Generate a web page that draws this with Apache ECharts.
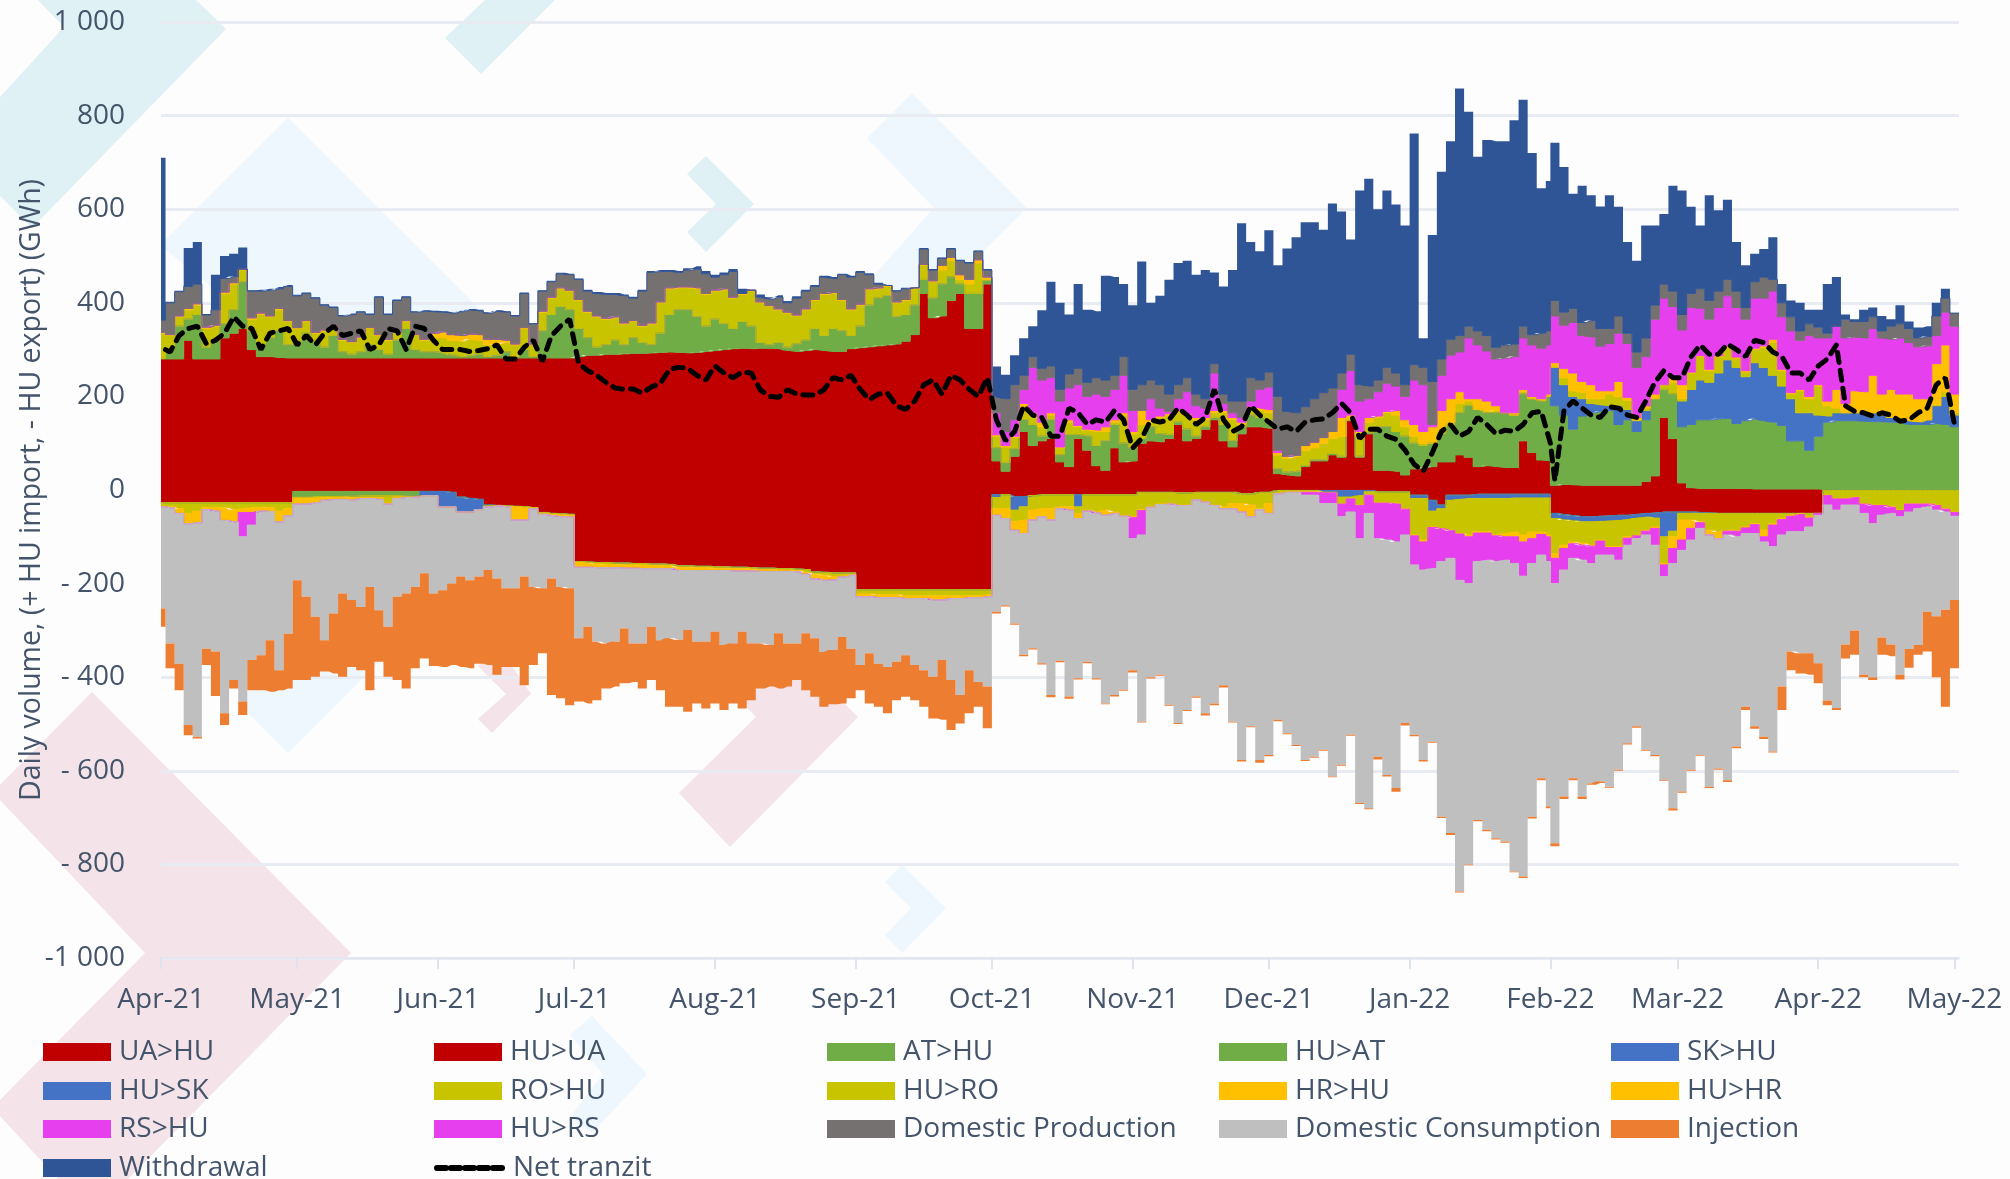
<!DOCTYPE html>
<html><head><meta charset="utf-8">
<style>html,body{margin:0;padding:0;background:#fdfdfe}#c{width:2010px;height:1179px}</style>
<script src="https://cdn.jsdelivr.net/npm/echarts@6/dist/echarts.min.js"></script>
</head><body><div id="c"></div>
<script>
// Month ticks: label + day offset from 1 Apr 2021
const monthLabels=['Apr-21','May-21','Jun-21','Jul-21','Aug-21','Sep-21','Oct-21','Nov-21','Dec-21','Jan-22','Feb-22','Mar-22','Apr-22','May-22'];
const monthDays=[0,30,61,91,122,153,183,214,244,275,306,334,365,395];

// All series were read off the picture as stacked band edges (GWh), per roughly two-day bin.
// "1" = Apr-Sep 2021 bins (92), "2" = Oct 2021-Apr 2022 bins (107).
const edgeUAHU1=[280,280,280,320,280,280,280,325,335,345,
300,285,285,283,282,282,282,282,282,282,
282,282,282,282,282,282,282,282,282,282,
282,282,282,282,282,282,282,282,282,282,
282,282,282,282,282,282,285,288,288,290,
290,291,292,292,293,294,295,294,293,294,
296,298,300,302,303,302,303,303,302,298,
296,298,300,298,296,296,302,304,306,308,
310,312,318,332,420,368,372,405,420,345,
345,440];
const edgeUAHU2=[62,40,72,125,95,105,110,60,50,110,
85,52,42,90,60,62,100,105,103,110,
140,105,110,130,150,105,92,120,135,135,
132,35,32,30,50,62,62,75,70,148,
70,120,42,42,40,32,45,48,50,60,
60,75,70,50,52,50,48,48,105,80,
64,62,10,12,11,10,10,10,10,10,
10,10,18,30,155,110,15,5,3,3,
3,3,3,3,2,2,2,2,2,2,
2,2,0,0,0,0,0,0,0,0,
0,0,0,0,0,0,0];
const edgeATHU1=[281,300,350,365,375,305,320,355,385,445,
340,310,325,340,310,318,335,318,305,330,
295,290,295,310,300,290,320,345,300,295,
295,292,288,285,287,290,285,288,295,285,
300,285,340,375,392,385,345,325,305,310,
320,310,325,315,310,335,375,385,385,370,
350,365,355,345,360,350,315,310,315,305,
312,320,345,330,345,340,330,350,395,410,
415,370,375,395,450,410,440,455,440,420,
420,448];
const edgeATHU2=[90,58,88,150,140,115,150,75,118,118,
115,95,105,140,100,90,110,135,120,118,
145,130,115,135,155,140,105,135,160,155,
150,45,38,40,52,64,65,78,72,150,
72,122,135,135,125,115,100,95,100,120,
140,165,180,172,165,165,165,160,205,195,
190,200,180,160,130,158,165,168,170,140,
150,125,150,195,215,205,135,140,150,150,
152,153,142,148,152,148,145,138,105,105,
85,115,145,148,148,148,147,146,146,145,
144,140,140,140,142,140,135];
const edgeSKHUFeb=[262,225,200,195,185,182,180,180,172,148,170,195,215,205,190,215,235,230,250,278,262,242,272,262,245,222,195,165,165,160,158,165,165,165,165,165,160,155,150,148,146,150,180,200,160];
const edgeROHU1=[335,330,370,385,395,345,350,420,440,470,
365,375,370,385,360,345,360,335,340,350,
320,315,325,345,330,320,335,360,330,320,
325,325,320,318,322,320,310,312,315,310,
345,310,380,410,430,425,405,380,370,365,
368,355,360,350,355,400,430,432,432,430,
418,425,428,410,418,425,400,392,385,378,
372,385,405,418,420,405,385,395,428,430,
435,400,405,430,480,445,470,490,450,440,
485,450];
const edgeROHU2=[115,92,112,175,160,135,160,90,145,135,
128,125,125,145,160,120,140,145,155,160,
165,160,150,150,165,165,150,140,170,170,
165,75,68,72,85,90,100,110,115,150,
115,145,155,165,160,135,115,100,100,125,
145,185,190,165,168,170,165,160,210,195,
192,200,265,240,212,208,195,195,205,200,
192,150,175,195,225,230,195,250,285,255,
285,305,282,252,300,305,315,255,205,212,
195,222,180,175,165,165,165,165,160,155,
150,148,146,150,182,210,165];
const edgeHRHU1=[337,332,372,388,398,348,352,423,443,472,
368,378,372,388,362,347,362,337,342,352,
322,317,327,347,332,322,337,362,332,322,
335,338,332,330,333,332,322,322,320,312,
347,312,382,412,432,427,407,382,372,367,
370,357,362,352,357,402,432,434,434,432,
420,427,430,412,420,427,402,394,387,380,
374,387,407,420,422,407,387,397,430,432,
437,402,407,432,482,447,480,497,460,450,
492,455];
const edgeHRHU2=[118,95,115,185,165,145,165,92,150,138,
130,128,135,150,165,125,170,150,158,163,
170,163,155,155,170,170,155,145,178,175,
172,80,72,74,95,102,112,125,155,160,
125,155,158,168,170,150,140,125,135,170,
195,210,195,195,190,180,165,165,215,200,
195,205,272,260,250,232,225,212,212,232,
198,155,180,205,225,245,225,252,287,258,
287,307,284,255,303,308,322,258,208,215,
200,225,190,215,185,212,210,245,205,215,
205,205,195,195,270,310,205];
const edgeRSHU2=[165,125,150,215,262,235,240,190,218,225,
200,205,200,215,245,170,170,195,175,168,
195,210,180,175,250,185,165,155,190,215,
220,85,72,74,95,102,112,125,215,255,
190,195,210,228,222,200,235,225,140,245,
288,295,325,310,297,280,282,285,325,310,
303,310,372,352,358,330,327,307,313,335,
313,262,285,365,410,392,342,390,388,365,
390,415,390,365,410,410,425,370,340,320,
330,325,325,350,325,327,325,345,325,322,
325,315,306,308,330,380,350];
const edgeProd1=[363,400,424,435,440,374,385,452,456,430,
425,425,427,430,435,415,420,410,395,390,
372,375,380,375,412,375,405,412,380,382,
381,380,378,381,385,383,378,382,380,372,
420,355,425,445,462,460,450,425,420,418,
418,415,410,425,465,467,467,465,470,472,
462,455,460,467,420,415,412,408,412,400,
410,425,435,455,452,460,455,465,460,440,
435,425,430,425,515,470,495,515,490,485,
510,470];
const edgeProd2=[199,195,225,245,285,260,265,215,248,260,
230,240,235,245,285,215,225,235,225,205,
225,240,205,195,270,205,190,190,240,235,
252,200,168,165,178,195,208,218,250,290,
225,222,235,262,250,225,268,262,232,280,
322,330,350,340,330,305,310,312,350,332,
335,340,405,380,388,358,362,345,345,372,
335,295,325,395,440,425,375,420,430,405,
425,450,425,390,445,455,450,400,370,340,
355,348,335,345,365,360,360,370,340,350,
355,345,325,328,372,410,378];
const edgeWithdrawal1=[710,402,426,517,530,376,460,500,505,518,
427,428,430,434,438,417,422,412,397,392,
374,377,382,377,414,377,407,414,382,384,
383,382,380,383,387,385,380,384,382,374,
422,357,427,447,464,462,452,428,423,421,
421,418,413,428,468,470,470,468,474,478,
468,460,465,472,430,420,418,412,416,404,
414,428,438,458,455,462,458,468,463,443,
437,427,432,427,517,472,497,517,492,487,
512,472];
const edgeWithdrawal2=[264,246,288,324,350,384,445,400,375,440,
385,382,458,455,440,395,488,400,415,449,
485,490,460,470,465,435,470,570,530,510,
555,480,516,540,572,572,556,612,595,535,
640,665,600,640,610,565,762,324,545,680,
745,858,808,712,748,745,745,790,834,720,
645,660,742,690,633,650,630,606,630,605,
530,490,565,565,590,650,640,605,565,630,
598,620,530,480,505,515,540,440,405,400,
385,385,440,455,375,365,385,390,372,365,
395,360,347,350,400,430,378];

const edgeHUUA1=[-27,-27,-27,-27,-27,-27,-27,-27,-27,-27,
-27,-27,-27,-27,-27,-3,-3,-3,-3,-3,
-3,-3,-3,-3,-3,-3,-3,-3,-3,-3,
-3,-3,-5,-15,-18,-20,-32,-33,-34,-35,
-36,-38,-48,-50,-51,-52,-153,-154,-155,-155,
-156,-156,-157,-157,-158,-158,-159,-162,-162,-163,
-163,-164,-164,-165,-165,-166,-167,-167,-168,-168,
-169,-170,-175,-176,-177,-177,-177,-213,-213,-213,
-213,-213,-213,-213,-213,-213,-213,-213,-213,-213,
-213,-213];
const edgeHUUA2=[-10,-10,-14,-14,-12,-10,-10,-10,-10,-10,
-10,-10,-10,-10,-10,-10,-5,-5,-5,-5,
-6,-6,-5,-5,-5,-5,-5,-8,-8,-5,
-5,-1,-1,-1,-1,-1,-1,-1,-1,-1,
-1,-1,-4,-4,-4,-4,-11,-11,-22,-32,
-11,-11,-11,-9,-9,-9,-9,-9,-9,-9,
-9,-9,-50,-53,-55,-57,-57,-56,-55,-54,
-54,-52,-50,-49,-47,-47,-47,-47,-48,-49,
-50,-50,-50,-50,-50,-50,-50,-50,-50,-50,
-50,-50,-1,-1,-1,-1,-1,-1,-1,-1,
-1,-1,-1,-1,-1,-1,-1];
const edgeHUATSpring=[-15,-15,-14,-14,-14,-13,-13,-12,-12,-12,-12,-12,-13,-14];
const edgeHUSKSpring=[-12,-12,-36,-36,-47,-47,-42,-34];
const edgeHUSK2=[-16,-10,-43,-36,-12,-10,-10,-10,-10,-36,
-10,-10,-10,-10,-10,-10,-5,-5,-5,-5,
-6,-6,-5,-5,-5,-5,-5,-8,-8,-5,
-5,-1,-1,-1,-1,-1,-5,-5,-15,-15,
-12,-4,-4,-4,-4,-4,-18,-18,-45,-40,
-22,-20,-18,-18,-18,-18,-18,-17,-17,-17,
-17,-17,-61,-64,-66,-68,-68,-67,-66,-65,
-63,-60,-58,-60,-100,-88,-50,-50,-50,-50,
-50,-50,-50,-50,-50,-50,-50,-50,-50,-50,
-50,-50,-1,-1,-1,-1,-1,-1,-1,-1,
-1,-1,-1,-1,-1,-1,-1];
const edgeHURO1=[-35,-36,-40,-50,-45,-38,-37,-38,-42,-40,
-38,-37,-38,-45,-40,-17,-17,-17,-16,-16,
-15,-16,-16,-16,-16,-28,-15,-15,-15,-12,
-12,-36,-36,-47,-47,-42,-35,-33,-35,-36,
-37,-38,-50,-52,-53,-54,-155,-156,-158,-159,
-159,-160,-160,-161,-161,-161,-162,-165,-165,-166,
-166,-167,-167,-168,-168,-169,-170,-170,-171,-171,
-172,-176,-180,-182,-185,-183,-180,-222,-222,-224,
-224,-224,-226,-226,-226,-226,-226,-226,-226,-226,
-226,-224];
const edgeHURO2=[-40,-40,-68,-64,-43,-40,-40,-36,-36,-50,
-43,-47,-43,-47,-54,-57,-42,-36,-30,-29,
-32,-32,-20,-25,-32,-36,-29,-29,-32,-40,
-29,-7,-4,-4,-4,-4,-5,-5,-29,-18,
-32,-10,-27,-27,-29,-40,-96,-107,-79,-82,
-86,-93,-96,-89,-89,-96,-93,-90,-96,-90,
-90,-96,-136,-118,-111,-114,-118,-107,-121,-121,
-100,-96,-86,-79,-157,-100,-64,-64,-68,-86,
-90,-86,-86,-79,-72,-86,-72,-61,-54,-50,
-57,-43,-11,-18,-18,-15,-29,-32,-32,-36,
-43,-29,-29,-29,-32,-40,-47];
const edgeHUHR1=[-36,-38,-50,-72,-70,-42,-45,-65,-68,-48,
-48,-45,-46,-68,-55,-30,-30,-27,-22,-20,
-20,-22,-18,-18,-20,-30,-18,-16,-15,-12,
-12,-36,-36,-47,-47,-42,-36,-34,-36,-64,
-64,-40,-52,-55,-57,-58,-165,-165,-166,-166,
-166,-167,-167,-168,-168,-168,-168,-172,-172,-172,
-172,-172,-172,-173,-173,-173,-174,-174,-174,-174,
-175,-180,-190,-193,-192,-186,-182,-228,-228,-230,
-230,-230,-232,-232,-232,-235,-235,-232,-232,-230,
-230,-228];
const edgeHUHR2=[-54,-61,-86,-93,-64,-57,-64,-40,-43,-61,
-45,-49,-54,-50,-56,-59,-44,-37,-31,-30,
-33,-33,-21,-26,-33,-40,-40,-47,-57,-42,
-50,-8,-5,-5,-5,-5,-6,-6,-30,-19,
-33,-11,-28,-28,-30,-41,-98,-111,-80,-83,
-87,-94,-100,-92,-92,-98,-100,-100,-111,-104,
-95,-100,-146,-125,-115,-118,-120,-109,-123,-123,
-103,-98,-88,-82,-160,-125,-107,-82,-70,-96,
-104,-88,-88,-81,-74,-100,-75,-63,-56,-52,
-60,-46,-12,-19,-19,-16,-30,-33,-33,-37,
-44,-30,-30,-30,-33,-41,-48];
const edgeHURSSpring=[-100,-75];
const edgeHURS2=[-54,-61,-86,-93,-64,-57,-64,-40,-43,-61,
-45,-49,-54,-50,-56,-104,-96,-37,-31,-30,
-33,-33,-21,-26,-33,-40,-40,-47,-57,-42,
-50,-8,-5,-5,-11,-11,-29,-29,-57,-47,
-104,-50,-104,-107,-111,-96,-160,-171,-168,-153,
-146,-193,-200,-153,-150,-153,-150,-157,-184,-157,
-139,-153,-200,-171,-146,-150,-157,-139,-139,-150,
-118,-104,-96,-118,-185,-157,-129,-107,-82,-96,
-104,-96,-100,-93,-93,-111,-121,-96,-89,-89,
-79,-54,-32,-43,-32,-32,-50,-72,-54,-50,
-57,-47,-40,-36,-43,-47,-56];
const edgeCons1=[-253,-328,-371,-502,-527,-339,-345,-477,-406,-452,
-363,-353,-321,-385,-307,-193,-228,-271,-321,-264,
-221,-235,-250,-207,-257,-292,-228,-221,-207,-178,
-221,-214,-200,-185,-193,-185,-171,-189,-210,-210,
-185,-207,-210,-189,-207,-210,-317,-292,-324,-328,
-324,-296,-328,-328,-292,-321,-317,-320,-299,-324,
-324,-303,-331,-328,-303,-328,-328,-331,-306,-328,
-328,-306,-317,-346,-342,-314,-339,-374,-349,-371,
-378,-367,-353,-374,-385,-399,-363,-406,-438,-385,
-410,-420];
const edgeCons2=[-260,-246,-285,-352,-338,-370,-438,-365,-441,-402,
-367,-402,-456,-438,-427,-385,-495,-400,-395,-459,
-498,-470,-441,-477,-456,-417,-495,-577,-505,-577,
-566,-491,-520,-545,-577,-570,-555,-612,-587,-523,
-669,-680,-570,-609,-637,-498,-523,-577,-538,-698,
-733,-858,-800,-705,-726,-744,-751,-815,-826,-698,
-616,-676,-755,-655,-616,-655,-627,-623,-634,-598,
-541,-505,-555,-566,-620,-680,-644,-598,-566,-634,
-595,-620,-548,-463,-505,-527,-559,-420,-345,-349,
-349,-370,-450,-466,-330,-300,-395,-400,-315,-330,
-395,-340,-331,-260,-270,-256,-235];
const edgeInj1=[-292,-381,-428,-524,-531,-374,-440,-502,-424,-481,
-428,-428,-431,-428,-424,-406,-406,-399,-388,-392,
-399,-378,-385,-428,-367,-399,-406,-424,-381,-360,
-376,-378,-374,-378,-381,-371,-374,-395,-378,-378,
-417,-374,-349,-438,-445,-460,-452,-456,-449,-424,
-420,-413,-410,-424,-406,-428,-463,-463,-474,-456,
-467,-456,-470,-456,-467,-449,-424,-420,-424,-420,
-406,-428,-442,-463,-458,-456,-445,-428,-456,-463,
-477,-449,-442,-449,-463,-488,-491,-513,-499,-477,
-463,-509];
const edgeInj2=[-264,-249,-288,-355,-341,-373,-443,-368,-446,-405,
-370,-405,-458,-441,-429,-390,-497,-403,-397,-461,
-500,-472,-444,-482,-460,-422,-497,-580,-507,-583,
-569,-494,-522,-547,-579,-572,-557,-614,-589,-525,
-671,-682,-576,-612,-645,-503,-526,-580,-540,-701,
-737,-860,-802,-708,-729,-747,-754,-817,-829,-702,
-620,-680,-761,-660,-620,-660,-630,-626,-636,-600,
-544,-508,-557,-569,-622,-685,-647,-600,-568,-637,
-598,-624,-552,-470,-510,-532,-561,-470,-385,-392,
-395,-413,-460,-470,-360,-352,-400,-406,-352,-355,
-405,-380,-352,-345,-400,-463,-381];
const netTranzit1=[300,295,330,345,350,312,320,335,370,350,
345,300,335,340,345,310,330,310,335,350,
330,335,340,300,310,345,340,300,350,345,
320,300,300,300,296,298,302,310,280,280,
305,320,275,330,350,365,270,255,245,230,
218,215,216,207,220,228,258,262,260,245,
235,265,250,240,252,250,214,200,198,214,
205,203,203,214,240,235,245,215,193,205,
207,180,172,190,225,235,205,245,235,215,
200,240];
const netTranzit2=[150,105,125,180,160,155,115,115,175,165,
140,150,145,170,150,90,110,150,145,150,
175,160,140,155,215,150,125,135,180,160,
145,130,135,125,145,150,152,165,185,165,
110,130,130,115,108,85,55,40,80,125,
140,115,125,155,140,120,128,125,140,165,
168,100,20,170,190,175,160,155,178,175,
160,155,190,230,255,240,240,285,310,290,
290,312,300,285,320,315,295,285,250,250,
235,265,280,310,180,168,165,158,165,160,
147,150,165,175,225,240,140];

// Bands without separate reading in a period share the neighbouring edge (zero thickness).
const edgeSKHU=edgeATHU1.concat(edgeATHU2.slice(0,62),edgeSKHUFeb);
const edgeRSHU=edgeHRHU1.concat(edgeRSHU2);
const edgeHUAT=edgeHUUA1.slice(0,15).concat(edgeHUATSpring,edgeHUUA1.slice(29),edgeHUUA2);
const edgeHUSK=edgeHUUA1.slice(0,15).concat(edgeHUATSpring,edgeHUSKSpring,edgeHUUA1.slice(37),edgeHUSK2);
const edgeHURS=edgeHUHR1.slice(0,9).concat(edgeHURSSpring,edgeHUHR1.slice(11),edgeHURS2);

// First day of every reading bin, then one category per day on the axis.
const binStart=[0];
for(let d=1;d<=305;d+=2)binStart.push(d);
for(let d=306;d<=394;d+=2)binStart.push(d);
const END_DAY=396;
const dayCats=[];
for(let d=0;d<=END_DAY;d++)dayCats.push(String(d));
const binOfDay=[];
{let b=0;for(let d=0;d<=END_DAY;d++){while(b+1<binStart.length&&binStart[b+1]<=d)b++;binOfDay.push(b);}}

const pal={red:'#c00000',green:'#70ad47',blue:'#4472c4',olive:'#c8c400',gold:'#ffc000',mag:'#e63fee',prod:'#767171',cons:'#bfbfbf',inj:'#ed7d31',wd:'#2f5597'};
const bands=[
 ['UA>HU','pos',pal.red,edgeUAHU1.concat(edgeUAHU2)],
 ['AT>HU','pos',pal.green,edgeATHU1.concat(edgeATHU2)],
 ['SK>HU','pos',pal.blue,edgeSKHU],
 ['RO>HU','pos',pal.olive,edgeROHU1.concat(edgeROHU2)],
 ['HR>HU','pos',pal.gold,edgeHRHU1.concat(edgeHRHU2)],
 ['RS>HU','pos',pal.mag,edgeRSHU],
 ['Domestic Production','pos',pal.prod,edgeProd1.concat(edgeProd2)],
 ['Withdrawal','pos',pal.wd,edgeWithdrawal1.concat(edgeWithdrawal2)],
 ['HU>UA','neg',pal.red,edgeHUUA1.concat(edgeHUUA2)],
 ['HU>AT','neg',pal.green,edgeHUAT],
 ['HU>SK','neg',pal.blue,edgeHUSK],
 ['HU>RO','neg',pal.olive,edgeHURO1.concat(edgeHURO2)],
 ['HU>HR','neg',pal.gold,edgeHUHR1.concat(edgeHUHR2)],
 ['HU>RS','neg',pal.mag,edgeHURS],
 ['Domestic Consumption','neg',pal.cons,edgeCons1.concat(edgeCons2)],
 ['Injection','neg',pal.inj,edgeInj1.concat(edgeInj2)]
];
const base={pos:binStart.map(()=>0),neg:binStart.map(()=>0)};
const series=bands.map(([name,st,color,edge],bi)=>{
  const b=base[st];
  const vals=binStart.map((x,i)=>{
    const e=edge[i]===undefined?b[i]:edge[i];
    const v=st==='pos'?Math.max(0,e-b[i]):Math.min(0,e-b[i]);
    b[i]+=v;
    return v;
  });
  // A hairline in the next band's colour closes antialiasing seams between stacked bands.
  const next=bands[bi+1]&&bands[bi+1][1]===st&&name!=='Domestic Consumption'?bands[bi+1][2]:null;
  return {name,type:'line',stack:st,step:'end',data:binOfDay.map(i=>vals[i]),symbol:'none',showSymbol:false,silent:true,
    lineStyle:next?{width:1,color:next}:{width:0},itemStyle:{color},areaStyle:{color,opacity:1},z:3};
});
const netAll=netTranzit1.concat(netTranzit2);
series.push({name:'Net tranzit',type:'line',data:binStart.map((x,i)=>[x+1,netAll[i]]),symbol:'none',showSymbol:false,silent:true,
  lineStyle:{color:'#000',width:5,type:[10,8],cap:'round'},itemStyle:{color:'#000'},z:5});

const legendRows=[
 ['UA>HU','HU>UA','AT>HU','HU>AT','SK>HU'],
 ['HU>SK','RO>HU','HU>RO','HR>HU','HU>HR'],
 ['RS>HU','HU>RS','Domestic Production','Domestic Consumption','Injection'],
 ['Withdrawal','Net tranzit']];
const colX=[43,434,827,1219,1611], rowY=[1051,1090,1128,1167];
const legends=[];
legendRows.forEach((r,ri)=>r.forEach((n,ci)=>legends.push({
  data:[n==='Net tranzit'?{name:n,itemStyle:{opacity:0}}:{name:n,icon:'rect'}],left:colX[ci],top:rowY[ri]-13,orient:'horizontal',padding:0,
  itemWidth:68,itemHeight:18,selectedMode:false,
  lineStyle:{width:6,type:[9,5],cap:'round'},
  textStyle:{color:'#44546a',fontFamily:'Open Sans',fontSize:28,padding:[0,0,0,3]}})));

const T='#dff1f5',B='#eef7fe',P='#f4e3e8';
const shapes=[
 [T,[[38,0],[196,0],[226,29],[32,228],[0,196],[0,97],[64,27]]],
 [T,[[485,0],[555,0],[481,74],[445,38]]],
 [T,[[706,156],[754,204],[706,252],[687,232],[716,204],[687,174]]],
 [B,[[288,118],[606,435],[288,753],[240,705],[395,435],[160,245]]],
 [B,[[912,93],[1027,208],[912,323],[870,280],[934,208],[867,138]]],
 [B,[[902,865],[946,908],[902,953],[885,935],[911,908],[885,882]]],
 [B,[[592,1016],[647,1074],[592,1133],[570,1117],[603,1074],[570,1035]]],
 [P,[[92,692],[351,953],[128,1179],[58,1179],[0,1116],[0,1100],[145,953],[0,800],[0,785]]],
 [P,[[679,793],[730,847],[858,717],[700,560],[650,610],[756,717]]],
 [P,[[492,733],[478,719],[506,694],[478,666],[498,646],[531,694]]]
];
const isMonth=i=>monthDays.includes(i);
const chart=echarts.init(document.getElementById('c'),null,{renderer:'canvas',width:2010,height:1179});
chart.setOption({
  animation:false,backgroundColor:'#fdfdfe',
  graphic:{elements:shapes.map(([fill,points])=>({type:'polygon',silent:true,z:-10,shape:{points},style:{fill}}))},
  grid:{left:161,right:51,top:22,bottom:221,containLabel:false},
  legend:legends,
  xAxis:{type:'category',data:dayCats,boundaryGap:false,
    axisLine:{onZero:false,lineStyle:{color:'#e3e8ef',width:2}},
    axisTick:{show:true,length:11,interval:i=>isMonth(i),lineStyle:{color:'#dfe4ec',width:2}},
    axisLabel:{interval:i=>isMonth(i),margin:28,color:'#44546a',fontFamily:'Open Sans',fontSize:28,
      formatter:v=>monthLabels[monthDays.indexOf(+v)]},
    splitLine:{show:false}},
  yAxis:{type:'value',min:-1000,max:1000,interval:200,
    name:'Daily volume, (+ HU import, - HU export) (GWh)',nameLocation:'middle',nameRotate:90,nameGap:115,nameMoveOverlap:false,
    nameTextStyle:{color:'#44546a',fontFamily:'Open Sans',fontSize:28.5},
    axisLine:{show:false},axisTick:{show:false},
    axisLabel:{margin:36,color:'#44546a',fontFamily:'Open Sans',fontSize:28,
      formatter:v=>v===1000?'1 000':v===-1000?'-1 000':v<0?'- '+(-v):String(v)},
    splitLine:{show:true,lineStyle:{color:'#e8ebf1',width:3}}},
  series
});
</script></body></html>
